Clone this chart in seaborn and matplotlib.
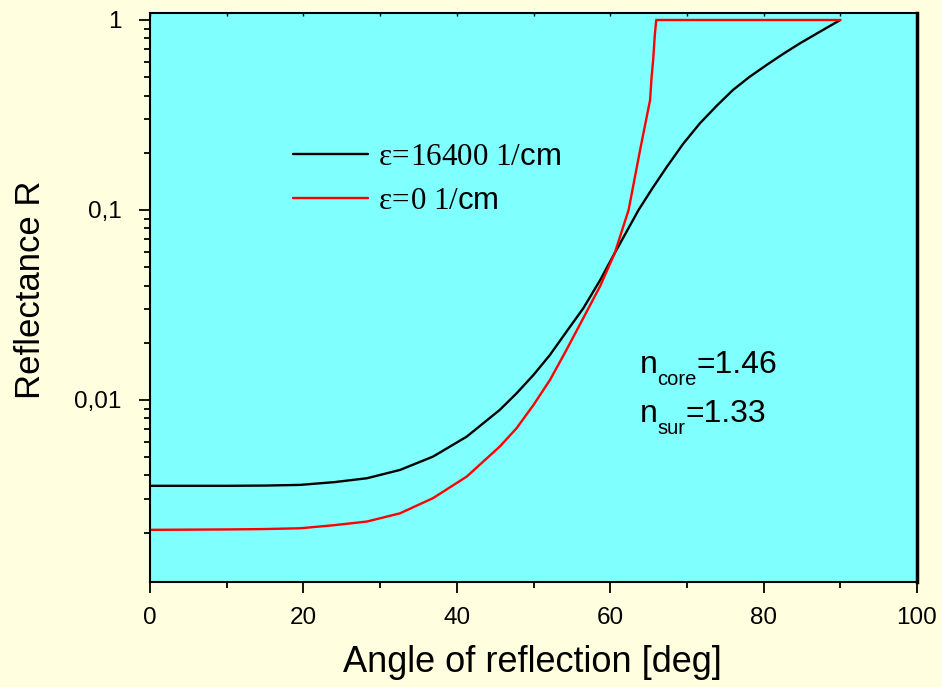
import matplotlib
matplotlib.use("Agg")
import matplotlib.pyplot as plt
import pandas as pd
import seaborn as sns
from matplotlib.ticker import FixedLocator, FixedFormatter, LogLocator, NullFormatter, MultipleLocator

# Reflectance vs. angle of reflection, absorbing and lossless surroundings
angle_absorbing = [0, 10, 15, 19.6, 24.0, 28.3, 32.6, 36.9, 41.3, 45.6, 47.8,
                   50.0, 52.15, 54.3, 56.5, 58.7, 60.6, 63.7, 65.5, 67.4, 69.5,
                   71.7, 73.9, 76.0, 78.2, 80.4, 82.6, 84.75, 87.35, 90.0]
refl_absorbing = [0.00353, 0.00353, 0.00354, 0.00357, 0.00369, 0.00387, 0.00428,
                  0.00503, 0.00641, 0.00886, 0.01084, 0.01354, 0.01726, 0.02287,
                  0.0304, 0.0428, 0.0594, 0.100, 0.130, 0.169, 0.2226, 0.286,
                  0.354, 0.428, 0.503, 0.580, 0.665, 0.754, 0.868, 1.0]

angle_lossless = [0, 10, 15, 19.6, 24.0, 28.3, 32.6, 36.9, 41.3, 45.6, 47.8,
                  50.0, 52.15, 54.3, 56.5, 58.7, 60.6, 62.4, 63.9, 64.5, 65.2,
                  65.4, 65.6, 65.8, 66.0, 90.0]
refl_lossless = [0.00207, 0.00208, 0.00209, 0.00211, 0.00219, 0.00229, 0.00253,
                 0.00304, 0.00395, 0.00568, 0.00710, 0.00941, 0.01274, 0.01834,
                 0.0270, 0.0398, 0.0594, 0.100, 0.207, 0.274, 0.379, 0.503,
                 0.616, 0.817, 1.0, 1.0]

series_labels = [r"$\mathrm{ε\!=\!16400\ 1/}$cm", r"$\mathrm{ε\!=\!0\ 1/}$cm"]
series_colors = ["#000000", "#ff0000"]

x_ticks = [0, 20, 40, 60, 80, 100]
y_ticks = [0.01, 0.1, 1]
y_tick_labels = ["0,01", "0,1", "1"]

index_names = ["core", "sur"]
index_values = ["1.46", "1.33"]

df = pd.concat([
    pd.DataFrame({"angle": angle_absorbing, "R": refl_absorbing, "series": series_labels[0]}),
    pd.DataFrame({"angle": angle_lossless, "R": refl_lossless, "series": series_labels[1]}),
], ignore_index=True)

sns.set_theme(style="ticks")
plt.rcParams.update({
    "font.family": ["Liberation Sans", "DejaVu Sans"],
    "mathtext.fontset": "custom",
    "mathtext.rm": "Liberation Serif",
    "mathtext.sf": "Liberation Sans",
    "mathtext.it": "Liberation Serif:italic",
    "mathtext.bf": "Liberation Serif:bold",
    "axes.edgecolor": "black",
    "axes.labelcolor": "black",
    "text.color": "black",
    "xtick.color": "black",
    "ytick.color": "black",
})

fig = plt.figure(figsize=(9.42, 6.87), dpi=100, facecolor="#ffffe0")
ax = fig.add_axes([150 / 942, 1 - 582 / 687, 767 / 942, 569.5 / 687])
ax.set_facecolor("#80ffff")

sns.lineplot(data=df, x="angle", y="R", hue="series", hue_order=series_labels,
             palette=series_colors, linewidth=1.7, sort=False, estimator=None,
             ax=ax)

ax.set_yscale("log")
ax.set_xlim(0, 100)
ax.set_ylim(0.0011, 1.095)

ax.xaxis.set_major_locator(FixedLocator(x_ticks))
ax.xaxis.set_minor_locator(MultipleLocator(10))
ax.yaxis.set_major_locator(FixedLocator(y_ticks))
ax.yaxis.set_major_formatter(FixedFormatter(y_tick_labels))
ax.yaxis.set_minor_locator(LogLocator(base=10, subs=range(2, 10)))
ax.yaxis.set_minor_formatter(NullFormatter())

ax.tick_params(which="major", direction="out", length=8, width=1.3, labelsize=17.5)
ax.tick_params(which="minor", direction="out", length=4, width=1.3)
ax.tick_params(axis="x", which="major", pad=10)
ax.tick_params(axis="y", which="major", pad=12.5)

top = ax.secondary_xaxis("top")
top.xaxis.set_major_locator(FixedLocator(x_ticks))
top.xaxis.set_minor_locator(MultipleLocator(10))
top.tick_params(which="both", direction="in", length=3, width=1.0, labeltop=False)
top.spines["top"].set_visible(False)

for side, sp in ax.spines.items():
    sp.set_visible(True)
    sp.set_linewidth(1.5)
ax.spines["right"].set_linewidth(2.5)

ax.set_xlabel("Angle of reflection [deg]", fontsize=26)
ax.set_ylabel("Reflectance R", fontsize=25)
ax.xaxis.set_label_coords(0.498, -0.142)
ax.xaxis.label.set_va("center")
ax.yaxis.set_label_coords(-0.156, 0.513)
ax.yaxis.label.set_va("center")

leg = ax.legend(loc="center left", bbox_to_anchor=(293 / 942, 1 - 179 / 687),
                bbox_transform=fig.transFigure, frameon=False, fontsize=22.4,
                handlelength=2.4, handletextpad=0.32, labelspacing=0.43,
                borderpad=0, borderaxespad=0)
for line in leg.get_lines():
    line.set_linewidth(1.7)

# refractive indices: "n" with a lowered subscript, then the value
main_size, sub_size = 23, 14.5
for name, val, y in zip(index_names, index_values, [0.01387, 0.00769]):
    ax.annotate("n", (63.8, y), fontsize=main_size, va="baseline", ha="left")
    ax.annotate(name, (63.8, y), xytext=(12.8, -8.6), textcoords="offset points",
                fontsize=sub_size, va="baseline", ha="left")
    sub_w = {"core": 28.2, "sur": 20.1}[name]
    ax.annotate("=" + val, (63.8, y), xytext=(12.8 + sub_w, 0),
                textcoords="offset points", fontsize=main_size,
                va="baseline", ha="left")

fig.savefig("out.png", dpi=100, facecolor=fig.get_facecolor())
